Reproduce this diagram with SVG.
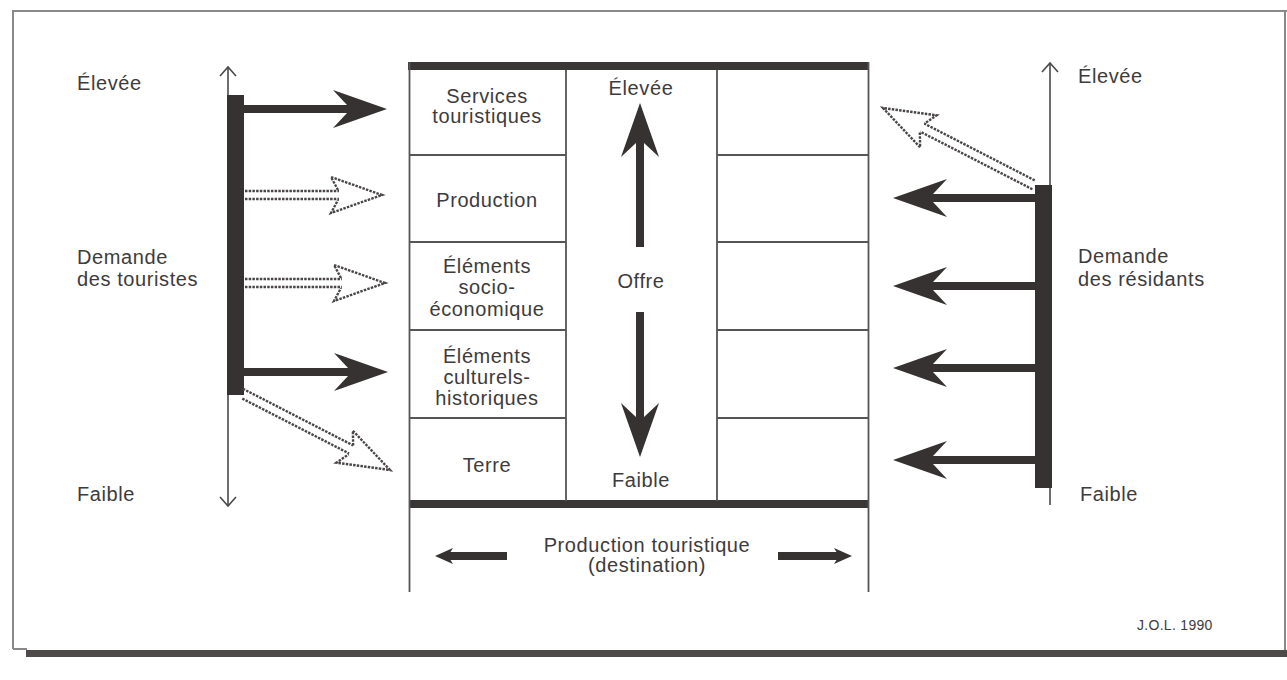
<svg xmlns="http://www.w3.org/2000/svg" width="1287" height="680" viewBox="0 0 1287 680">
<style>
text{font-family:"Liberation Sans",Arial,sans-serif;font-size:20px;fill:#3d3b3b;letter-spacing:0.6px}
.c{text-anchor:middle}
.thin{stroke:#4a4848;stroke-width:1.6;fill:none}
.grid{stroke:#555;stroke-width:1.8;fill:none}
.solid{fill:#363232}
.shaft{stroke:#363232;stroke-width:8;fill:none}
.hol{stroke:#4a4646;stroke-width:2.4;fill:none;stroke-dasharray:2.5 1.2}
.frame{stroke:#8a8888;stroke-width:2;fill:none}
</style>
<defs>
<path id="hs" d="M0,0 L-54,-19 L-40,-4 L-40,4 L-54,19 Z"/>
<path id="hh" d="M-44,-5 L-51,-18 L0,0 L-51,18 L-44,5"/>
<path id="hsm" d="M0,0 L-18,-8 L-13,0 L-18,8 Z"/>
</defs>
<rect width="1287" height="680" fill="#ffffff"/>
<g id="frame">
<line class="frame" x1="12" y1="11" x2="1287" y2="11"/>
<line class="frame" x1="13" y1="11" x2="13" y2="649"/>
<line class="frame" x1="13" y1="649" x2="27" y2="649"/>
<line class="frame" x1="1285" y1="11" x2="1285" y2="650" stroke="#aaa"/>
<rect x="26" y="650" width="1261" height="7" fill="#4e4a4a"/>
</g>
<g id="offre-table">
<rect x="408" y="62" width="461" height="8" fill="#3a3636"/>
<rect x="409" y="500" width="460" height="8" fill="#3a3636"/>
<line class="grid" x1="409.5" y1="62" x2="409.5" y2="592"/>
<line class="grid" x1="868.5" y1="62" x2="868.5" y2="592"/>
<line class="grid" x1="566" y1="70" x2="566" y2="501"/>
<line class="grid" x1="717" y1="70" x2="717" y2="501"/>
<line class="grid" x1="409" y1="155" x2="566" y2="155"/>
<line class="grid" x1="409" y1="242" x2="566" y2="242"/>
<line class="grid" x1="409" y1="330" x2="566" y2="330"/>
<line class="grid" x1="409" y1="418" x2="566" y2="418"/>
<line class="grid" x1="717" y1="155" x2="868" y2="155"/>
<line class="grid" x1="717" y1="242" x2="868" y2="242"/>
<line class="grid" x1="717" y1="330" x2="868" y2="330"/>
<line class="grid" x1="717" y1="418" x2="868" y2="418"/>
</g>
<g id="n-services"><text class="c" x="487" y="103">Services</text><text class="c" x="487" y="123">touristiques</text></g>
<g id="n-production"><text class="c" x="487" y="207">Production</text></g>
<g id="n-socio"><text class="c" x="487" y="273">Éléments</text><text class="c" x="487" y="294">socio-</text><text class="c" x="487" y="316">économique</text></g>
<g id="n-culturels"><text class="c" x="487" y="363">Éléments</text><text class="c" x="487" y="384">culturels-</text><text class="c" x="487" y="405">historiques</text></g>
<g id="n-terre"><text class="c" x="487" y="472">Terre</text></g>
<g id="n-offre">
<text class="c" x="641" y="95">Élevée</text>
<text class="c" x="641" y="288">Offre</text>
<text class="c" x="641" y="487">Faible</text>
</g>
<g id="n-production-touristique">
<text class="c" x="647" y="552">Production touristique</text>
<text class="c" x="647" y="572">(destination)</text>
</g>
<g id="n-touristes">
<text x="77" y="90">Élevée</text>
<text x="77" y="264">Demande</text>
<text x="77" y="286">des touristes</text>
<text x="77" y="501">Faible</text>
<line class="thin" x1="228" y1="67" x2="228" y2="506"/>
<polyline class="thin" points="220,76 228,67 236,76"/>
<polyline class="thin" points="220,497 228,506 236,497"/>
<rect x="227" y="95" width="17" height="300" fill="#363232"/>
</g>
<g id="n-residants">
<text x="1078" y="83">Élevée</text>
<text x="1078" y="263">Demande</text>
<text x="1078" y="286">des résidants</text>
<text x="1080" y="501">Faible</text>
<line class="thin" x1="1050" y1="63" x2="1050" y2="505"/>
<polyline class="thin" points="1042,72 1050,63 1058,72"/>
<rect x="1035" y="185" width="17" height="303" fill="#363232"/>
</g>
<g id="connectors">
<line class="shaft" x1="244" y1="109" x2="350" y2="109"/>
<use href="#hs" class="solid" transform="translate(387,109)"/>
<line class="hol" x1="245" y1="191" x2="339" y2="191"/>
<line class="hol" x1="245" y1="199" x2="339" y2="199"/>
<use href="#hh" class="hol" transform="translate(382,195)"/>
<line class="hol" x1="245" y1="279" x2="342" y2="279"/>
<line class="hol" x1="245" y1="287" x2="342" y2="287"/>
<use href="#hh" class="hol" transform="translate(385,283)"/>
<line class="shaft" x1="244" y1="372" x2="351" y2="372"/>
<use href="#hs" class="solid" transform="translate(388,372)"/>
<g transform="translate(390,470) rotate(27.2)">
<line class="hol" x1="-168" y1="-5" x2="-44" y2="-5"/>
<line class="hol" x1="-164" y1="4" x2="-44" y2="4"/>
<use href="#hh" class="hol"/>
</g>
<g transform="translate(883,108) rotate(207.2)">
<line class="hol" x1="-170" y1="-4" x2="-44" y2="-4"/>
<line class="hol" x1="-168" y1="5" x2="-44" y2="5"/>
<use href="#hh" class="hol"/>
</g>
<line class="shaft" x1="930" y1="198" x2="1036" y2="198"/>
<use href="#hs" class="solid" transform="translate(893,198) rotate(180)"/>
<line class="shaft" x1="930" y1="286" x2="1036" y2="286"/>
<use href="#hs" class="solid" transform="translate(893,286) rotate(180)"/>
<line class="shaft" x1="930" y1="368" x2="1036" y2="368"/>
<use href="#hs" class="solid" transform="translate(893,368) rotate(180)"/>
<line class="shaft" x1="930" y1="460" x2="1036" y2="460"/>
<use href="#hs" class="solid" transform="translate(893,460) rotate(180)"/>
<line class="shaft" x1="640" y1="140" x2="640" y2="247" stroke-width="7"/>
<use href="#hs" class="solid" transform="translate(640,103) rotate(-90)"/>
<line class="shaft" x1="640" y1="312" x2="640" y2="420" stroke-width="7"/>
<use href="#hs" class="solid" transform="translate(640,457) rotate(90)"/>
<line class="shaft" x1="448" y1="556" x2="507" y2="556" stroke-width="3"/>
<use href="#hsm" class="solid" transform="translate(435,556) rotate(180)"/>
<line class="shaft" x1="778" y1="556" x2="840" y2="556" stroke-width="3"/>
<use href="#hsm" class="solid" transform="translate(852,556)"/>
</g>
<text x="1137" y="630" style="font-size:14px;letter-spacing:0.3px">J.O.L. 1990</text>
</svg>
